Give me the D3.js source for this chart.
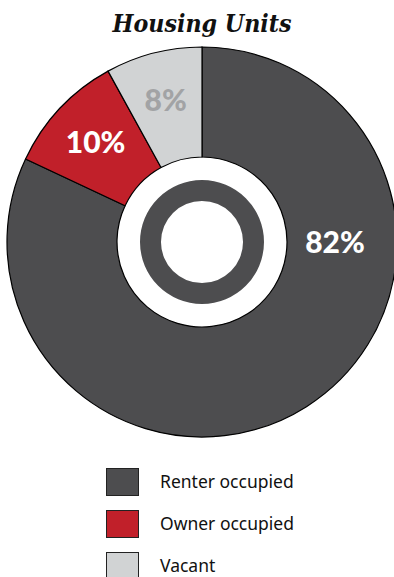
<!DOCTYPE html>
<html>
<head>
<meta charset="utf-8">
<script src="https://cdn.jsdelivr.net/npm/d3@7"></script>
<style>
  html, body { margin: 0; padding: 0; background: #fff; }
  svg { display: block; }
</style>
</head>
<body>
<svg id="chart" width="394" height="577"></svg>
<script>
// Housing unit shares by tenure
const categories = ["Renter occupied", "Owner occupied", "Vacant"];
const shares = [82, 10, 8];
const sliceColors = ["#4d4d4f", "#c1202a", "#d1d3d4"];
const labelColors = ["#ffffff", "#ffffff", "#a2a3a5"];

const W = 394, H = 577;
const cx = 202, cy = 242;
const outerR = 195, innerR = 85;

const svg = d3.select("#chart");

svg.append("text")
  .attr("x", cx).attr("y", 32)
  .attr("text-anchor", "middle")
  .attr("font-family", "'DejaVu Serif', serif")
  .attr("font-weight", "bold")
  .attr("font-style", "italic")
  .attr("font-size", 25)
  .attr("textLength", 179)
  .attr("lengthAdjust", "spacingAndGlyphs")
  .attr("fill", "#111")
  .text("Housing Units");

const data = categories.map((c, i) => ({ name: c, value: shares[i], color: sliceColors[i], label: labelColors[i] }));

const pie = d3.pie().sort(null).value(d => d.value);
const arcs = pie(data);

const arc = d3.arc().innerRadius(innerR).outerRadius(outerR);

const g = svg.append("g").attr("transform", `translate(${cx},${cy})`);

g.selectAll("path.slice")
  .data(arcs)
  .join("path")
  .attr("class", "slice")
  .attr("d", arc)
  .attr("fill", d => d.data.color)
  .attr("stroke", "#000")
  .attr("stroke-width", 1.2);

// center emblem: dark ring inside the hole
g.append("path")
  .attr("d", d3.arc().innerRadius(41).outerRadius(62).startAngle(0).endAngle(2 * Math.PI)())
  .attr("fill", "#4d4d4f");

// percentage labels; the big slice label sits at 3 o'clock
const labelR = 146;
g.selectAll("text.pct")
  .data(arcs)
  .join("text")
  .attr("class", "pct")
  .attr("transform", (d, i) => {
    const a = i === 0 ? Math.PI / 2 : (d.startAngle + d.endAngle) / 2;
    const r = i === 0 ? 133 : labelR;
    return `translate(${r * Math.sin(a)},${-r * Math.cos(a)})`;
  })
  .attr("text-anchor", "middle")
  .attr("dy", "0.36em")
  .attr("font-family", "Lato, 'Open Sans', sans-serif")
  .attr("font-weight", 900)
  .attr("font-size", 30)
  .attr("fill", d => d.data.label)
  .text(d => d.data.value + "%");

// legend
const legend = svg.append("g");
const rows = legend.selectAll("g")
  .data(data)
  .join("g")
  .attr("transform", (d, i) => `translate(106,${468 + i * 42})`);

rows.append("rect")
  .attr("x", 0.5).attr("y", 0.5)
  .attr("width", 32).attr("height", 27)
  .attr("fill", d => d.color)
  .attr("stroke", "#222")
  .attr("stroke-width", 1);

rows.append("text")
  .attr("x", 54).attr("y", 20)
  .attr("font-family", "'Noto Sans', sans-serif")
  .attr("font-size", 17.5)
  .attr("fill", "#111")
  .text(d => d.name);
</script>
</body>
</html>
